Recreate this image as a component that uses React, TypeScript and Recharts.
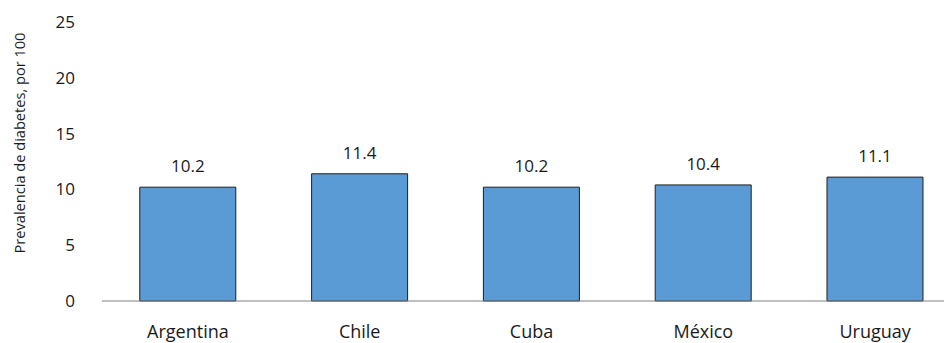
import React from 'react'
import { Bar, BarChart, LabelList, XAxis, YAxis, Label } from 'recharts'

// countries and diabetes prevalence (per 100)
const countries = ['Argentina', 'Chile', 'Cuba', 'México', 'Uruguay']
const prevalence = [10.2, 11.4, 10.2, 10.4, 11.1]
const yTicks = [0, 5, 10, 15, 20, 25]

const data = countries.map((country, i) => ({ country, value: prevalence[i] }))

const font = '"Open Sans", sans-serif'

const App = () => {
  return (
    // the plot runs a little past the right edge of the window, so clip it
    <div style={{ width: 944, height: 335, overflow: 'hidden' }}>
      <BarChart
        width={960}
        height={335}
        data={data}
        margin={{ top: 14, right: 7, left: 0, bottom: 0 }}
        barCategoryGap="22%"
        style={{ fontFamily: font }}
      >
        <XAxis
          dataKey="country"
          height={42}
          tickLine={false}
          axisLine={{ stroke: '#808080', strokeWidth: 1 }}
          tick={{ fill: '#1a1a1a', fontSize: 18, dy: 16 }}
        />
        <YAxis
          width={94}
          domain={[0, 25]}
          ticks={yTicks}
          axisLine={false}
          tickLine={false}
          tick={{ fill: '#1a1a1a', fontSize: 17, dx: -19 }}
        >
          <Label
            content={() => (
              <text
                x={17}
                y={135}
                transform="rotate(-90 17 135)"
                textAnchor="middle"
                fontSize={14.6}
                fill="#1a1a1a"
                fontFamily={font}
              >
                Prevalencia de diabetes, por 100
              </text>
            )}
          />
        </YAxis>
        <Bar dataKey="value" fill="#5B9BD5" stroke="#1f1f1f" strokeWidth={1} isAnimationActive={false}>
          <LabelList dataKey="value" position="top" offset={15} fill="#1a1a1a" fontSize={17} />
        </Bar>
      </BarChart>
    </div>
  )
}

export default App
